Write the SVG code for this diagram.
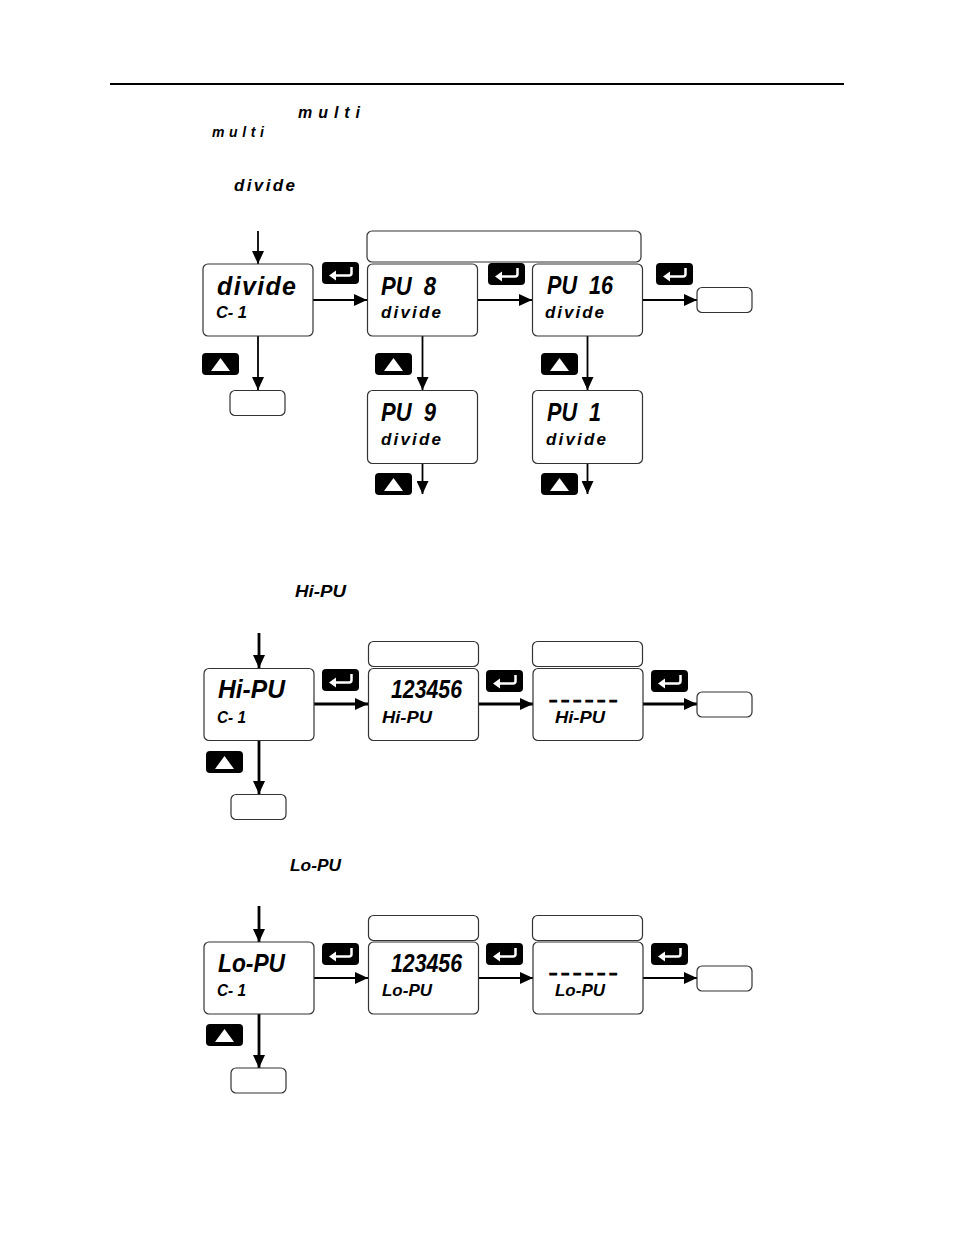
<svg xmlns="http://www.w3.org/2000/svg" width="954" height="1235" viewBox="0 0 954 1235">
<style>
.box{fill:#fff;stroke:#333;stroke-width:1.2}
.seg{font-family:"Liberation Sans",Arial,sans-serif;font-weight:700;font-style:italic;fill:#000;white-space:pre}
.big{font-size:25px}
.small{font-size:17px}
.head{font-size:15px}
.dash{font-family:"Liberation Sans",Arial,sans-serif;font-weight:700;font-size:14px;letter-spacing:2px;fill:#000;stroke:#000;stroke-width:.8}
.c{fill:none;stroke:#000;stroke-width:1.8;marker-end:url(#arrow)}
.t{stroke-width:2.8}
.key{fill:#000}
.glyph{fill:#fff}
.ret{fill:none;stroke:#fff;stroke-width:2.5}
</style>
<defs>
<marker id="arrow" markerUnits="userSpaceOnUse" markerWidth="13" markerHeight="12" refX="13" refY="6" orient="auto"><path d="M0 0L13 6L0 12z" fill="#000"/></marker>
<g id="enter"><rect class="key" width="37" height="22" rx="4"/><path class="ret" d="M12 13.500H27Q29.500 13.500 29.500 11V5"/><path class="glyph" d="M7 13.500L14 8.500V18.500z"/></g>
<g id="up"><rect class="key" width="37" height="22" rx="4"/><path class="glyph" d="M9 18L18.500 5L28 18z"/></g>
</defs>
<rect width="954" height="1235" fill="#fff"/>
<rect id="header-rule" x="110" y="83" width="734" height="2" fill="#000"/>
<g id="intro-labels">
<text class="seg" font-size="16" x="298" y="118" textLength="62" lengthAdjust="spacing">multi</text>
<text class="seg" font-size="14" x="212" y="137" textLength="52" lengthAdjust="spacing">multi</text>
<text class="seg" font-size="17" x="234" y="191" textLength="61" lengthAdjust="spacing">divide</text>
<text class="seg" font-size="17" x="295" y="597" textLength="51" lengthAdjust="spacingAndGlyphs">Hi-PU</text>
<text class="seg" font-size="17" x="290" y="871" textLength="51" lengthAdjust="spacingAndGlyphs">Lo-PU</text>
</g>
<g id="connectors">
<path class="c" d="M258 231V264"/>
<path class="c" d="M313 300H367"/>
<path class="c" d="M477 300H532"/>
<path class="c" d="M642 300H697"/>
<path class="c" d="M258 336V390"/>
<path class="c" d="M422.500 336V390"/>
<path class="c" d="M587.500 336V390"/>
<path class="c" d="M422.500 463V494"/>
<path class="c" d="M587.500 463V494"/>
<path class="c t" d="M259 633V668"/>
<path class="c t" d="M313 704H368"/>
<path class="c t" d="M478 704H533"/>
<path class="c t" d="M643 704H697"/>
<path class="c t" d="M259 741V794"/>
<path class="c t" d="M259 906V942"/>
<path class="c" d="M313 978H368"/>
<path class="c" d="M478 978H533"/>
<path class="c" d="M643 978H697"/>
<path class="c t" d="M259 1014V1068"/>
</g>
<g id="keys">
<use href="#enter" x="322" y="262"/>
<use href="#enter" x="488" y="263"/>
<use href="#enter" x="656" y="263"/>
<use href="#up" x="202" y="353"/>
<use href="#up" x="375" y="353"/>
<use href="#up" x="541" y="353"/>
<use href="#up" x="375" y="473"/>
<use href="#up" x="541" y="473"/>
<use href="#enter" x="322" y="669"/>
<use href="#enter" x="486" y="670"/>
<use href="#enter" x="651" y="670"/>
<use href="#up" x="206" y="751"/>
<use href="#enter" x="322" y="943"/>
<use href="#enter" x="486" y="943"/>
<use href="#enter" x="651" y="943"/>
<use href="#up" x="206" y="1024"/>
</g>
<g id="node-title-1"><rect class="box" x="367" y="231" width="274" height="31" rx="5"/></g>
<g id="node-divide"><rect class="box" x="203" y="264" width="110" height="72" rx="5"/>
<text class="seg big" x="217" y="295" textLength="79" lengthAdjust="spacing">divide</text>
<text class="seg small" x="216" y="318" textLength="31" lengthAdjust="spacingAndGlyphs">C- 1</text></g>
<g id="node-pu8"><rect class="box" x="367.500" y="264" width="110" height="72" rx="5"/>
<text class="seg big" x="381" y="295" textLength="55" lengthAdjust="spacingAndGlyphs">PU  8</text>
<text class="seg small" x="381" y="318" textLength="60" lengthAdjust="spacing">divide</text></g>
<g id="node-pu16"><rect class="box" x="532.500" y="264" width="110" height="72" rx="5"/>
<text class="seg big" x="547" y="294" textLength="66" lengthAdjust="spacingAndGlyphs">PU  16</text>
<text class="seg small" x="545" y="318" textLength="59" lengthAdjust="spacing">divide</text></g>
<g id="node-end-1"><rect class="box" x="697" y="287.500" width="55" height="25" rx="5"/></g>
<g id="node-exit-1"><rect class="box" x="230" y="390.500" width="55" height="25" rx="5"/></g>
<g id="node-pu9"><rect class="box" x="367.500" y="390.500" width="110" height="73" rx="5"/>
<text class="seg big" x="381" y="421" textLength="55" lengthAdjust="spacingAndGlyphs">PU  9</text>
<text class="seg small" x="381" y="445" textLength="60" lengthAdjust="spacing">divide</text></g>
<g id="node-pu1"><rect class="box" x="532.500" y="390.500" width="110" height="73" rx="5"/>
<text class="seg big" x="547" y="421" textLength="54" lengthAdjust="spacingAndGlyphs">PU  1</text>
<text class="seg small" x="546" y="445" textLength="60" lengthAdjust="spacing">divide</text></g>
<g id="node-hipu"><rect class="box" x="204" y="668.500" width="110" height="72" rx="5"/>
<text class="seg big" x="218" y="698" textLength="67" lengthAdjust="spacingAndGlyphs">Hi-PU</text>
<text class="seg small" x="217" y="723" textLength="29" lengthAdjust="spacingAndGlyphs">C- 1</text></g>
<g id="node-title-2"><rect class="box" x="368.500" y="641.500" width="110" height="25" rx="5"/></g>
<g id="node-hi-value"><rect class="box" x="368.500" y="668.500" width="110" height="72" rx="5"/>
<text class="seg big" x="391" y="698" textLength="71" lengthAdjust="spacingAndGlyphs">123456</text>
<text class="seg small" x="382" y="723" textLength="50" lengthAdjust="spacingAndGlyphs">Hi-PU</text></g>
<g id="node-title-3"><rect class="box" x="532.500" y="641.500" width="110" height="25" rx="5"/></g>
<g id="node-hi-dashes"><rect class="box" x="533" y="668.500" width="110" height="72" rx="5"/>
<text class="dash" transform="translate(549 705) scale(1.8 1)">------</text>
<text class="seg small" x="555" y="723" textLength="50" lengthAdjust="spacingAndGlyphs">Hi-PU</text></g>
<g id="node-end-2"><rect class="box" x="697" y="692" width="55" height="25" rx="5"/></g>
<g id="node-exit-2"><rect class="box" x="231" y="794.500" width="55" height="25" rx="5"/></g>
<g id="node-lopu"><rect class="box" x="204" y="942" width="110" height="72" rx="5"/>
<text class="seg big" x="218" y="972" textLength="67" lengthAdjust="spacingAndGlyphs">Lo-PU</text>
<text class="seg small" x="217" y="996" textLength="29" lengthAdjust="spacingAndGlyphs">C- 1</text></g>
<g id="node-title-4"><rect class="box" x="368.500" y="915.500" width="110" height="25" rx="5"/></g>
<g id="node-lo-value"><rect class="box" x="368.500" y="942" width="110" height="72" rx="5"/>
<text class="seg big" x="391" y="972" textLength="71" lengthAdjust="spacingAndGlyphs">123456</text>
<text class="seg small" x="382" y="996" textLength="50" lengthAdjust="spacingAndGlyphs">Lo-PU</text></g>
<g id="node-title-5"><rect class="box" x="532.500" y="915.500" width="110" height="25" rx="5"/></g>
<g id="node-lo-dashes"><rect class="box" x="533" y="942" width="110" height="72" rx="5"/>
<text class="dash" transform="translate(549 978) scale(1.8 1)">------</text>
<text class="seg small" x="555" y="996" textLength="50" lengthAdjust="spacingAndGlyphs">Lo-PU</text></g>
<g id="node-end-3"><rect class="box" x="697" y="966" width="55" height="25" rx="5"/></g>
<g id="node-exit-3"><rect class="box" x="231" y="1068" width="55" height="25" rx="5"/></g>
</svg>
